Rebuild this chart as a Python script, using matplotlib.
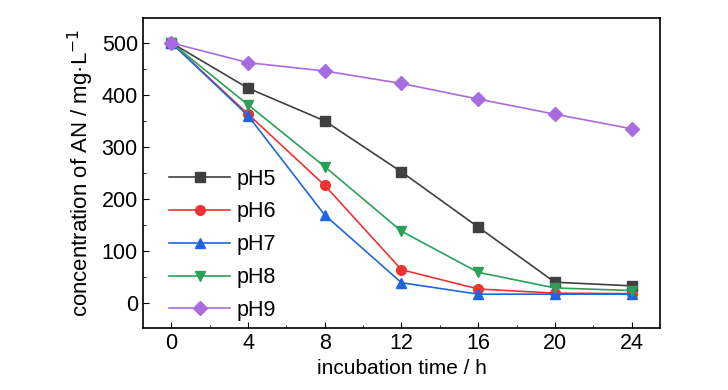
import matplotlib
matplotlib.use('Agg')
import matplotlib.pyplot as plt
from matplotlib.ticker import MultipleLocator

plt.rcParams['font.family'] = ['Liberation Sans', 'DejaVu Sans']

# 데이터
time_h = [0, 4, 8, 12, 16, 20, 24]
ph5 = [500, 413, 350, 252, 146, 40, 33]
ph6 = [500, 363, 226, 64, 27, 19, 18]
ph7 = [500, 360, 169, 39, 17, 17, 17]
ph8 = [500, 381, 262, 138, 59, 29, 24]
ph9 = [500, 462, 446, 422, 392, 363, 335]

series = [
    ('pH5', ph5, '#404040', 's'),
    ('pH6', ph6, '#ee3333', 'o'),
    ('pH7', ph7, '#1f66dd', '^'),
    ('pH8', ph8, '#2aa05a', 'v'),
    ('pH9', ph9, '#a86be0', 'D'),
]

fig = plt.figure(figsize=(7.28, 3.9), dpi=100)
ax = fig.add_axes([0.196, 0.159, 0.711, 0.795])

for label, vals, color, marker in series:
    ax.plot(time_h, vals, color=color, marker=marker, markersize=7,
            linewidth=1.2, label=label)

ax.set_xlim(-1.5, 25.5)
ax.set_ylim(-48, 548)
ax.xaxis.set_major_locator(MultipleLocator(4))
ax.xaxis.set_minor_locator(MultipleLocator(2))
ax.yaxis.set_major_locator(MultipleLocator(100))
ax.yaxis.set_minor_locator(MultipleLocator(50))
ax.tick_params(which='both', direction='in', labelsize=15.5, top=False, right=False)
ax.tick_params(which='major', length=4)
ax.tick_params(which='minor', length=2.5)
for sp in ax.spines.values():
    sp.set_linewidth(1.2)

ax.set_xlabel('incubation time / h', fontsize=15)
ax.set_ylabel('concentration of AN / mg·L$^{-1}$', fontsize=16)

ax.legend(loc='lower left', frameon=False, fontsize=15.5, handlelength=2.8,
          labelspacing=0.55, handletextpad=0.3, borderaxespad=0.0,
          bbox_to_anchor=(0.035, -0.005))

fig.savefig('out.png', dpi=100)
